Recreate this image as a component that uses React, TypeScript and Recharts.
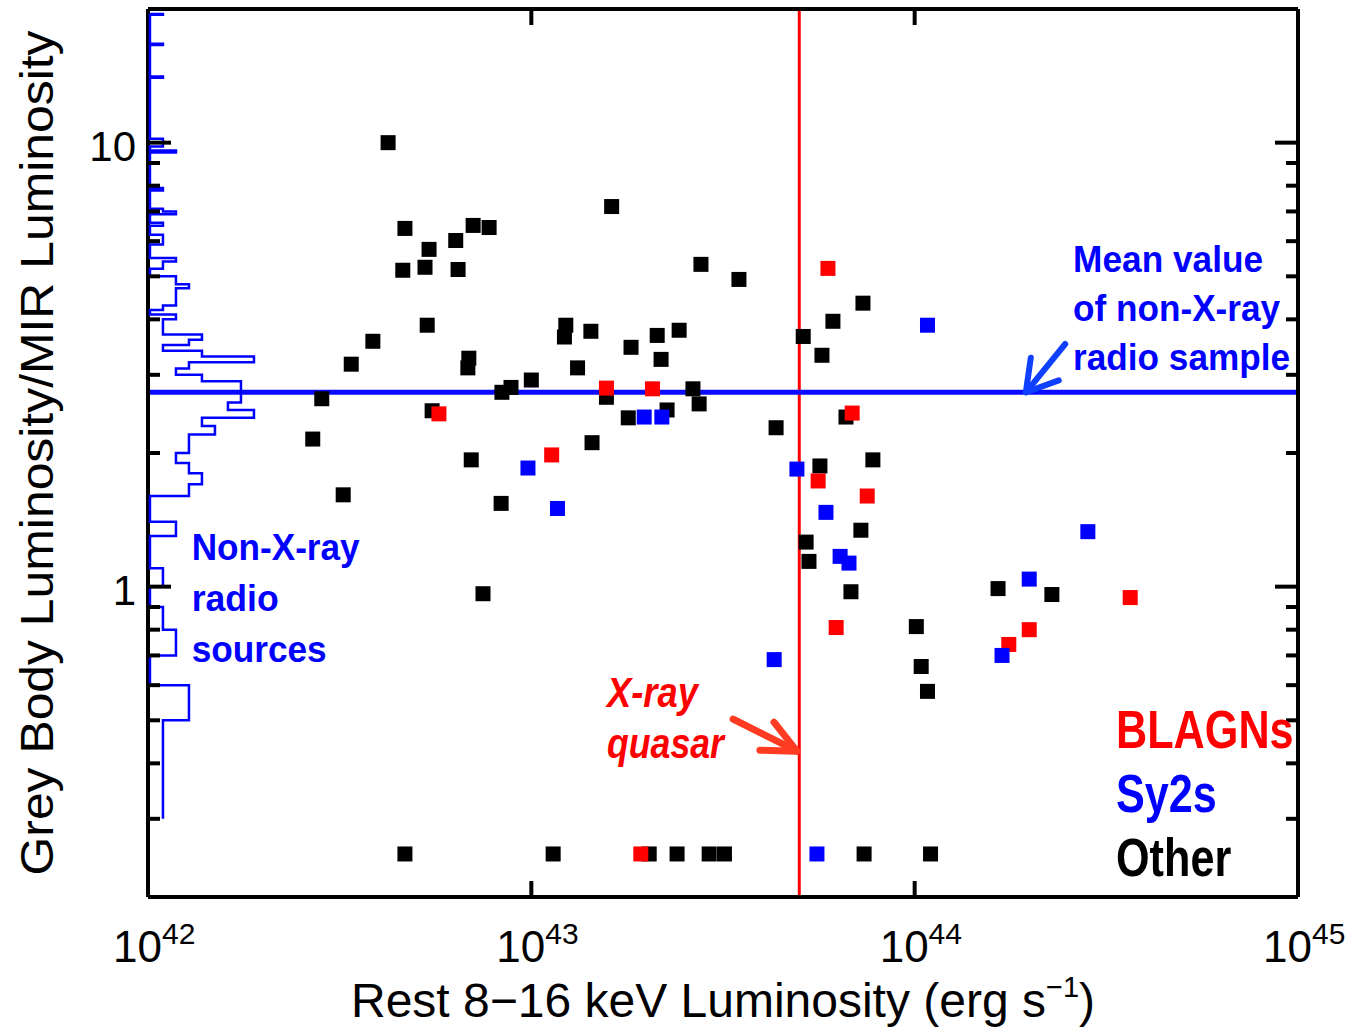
import React from 'react';
import { ScatterChart, Scatter, XAxis, YAxis, ReferenceLine, ReferenceDot, Legend } from 'recharts';

const FONT = "'Liberation Sans', Arial, Helvetica, sans-serif";

const CHART_W = 1345;
const CHART_H = 1028;
// plot frame, page pixels
const PLOT = { left: 148, top: 9, right: 1298, bottom: 897 };
const X_AXIS_H = 30;
const Y_AXIS_W = 60;

// rest 8-16 keV luminosity (erg/s) vs grey body / MIR luminosity
// (the row at 0.25 are the upper limits along the bottom)
const OTHER_LX = [
  4.23e42, 4.68e42, 7.05e42, 7.76e42, 5.41e42, 6.35e42, 4.62e42, 5.28e42, 6.44e42, 5.35e42,
  3.86e42, 3.39e42, 6.87e42, 6.83e42, 1.23e43, 1.22e43, 1.32e43, 1.0e43, 8.85e42, 8.38e42,
  2.84e42, 5.51e42, 2.69e42, 6.97e42, 3.23e42, 8.34e42, 7.48e42, 1.62e43, 2.77e43, 3.48e43,
  1.43e43, 1.82e43, 2.13e43, 2.43e43, 2.18e43, 1.57e43, 2.64e43, 2.74e43, 2.26e43, 1.79e43,
  4.35e43, 1.44e43, 5.12e43, 5.73e43, 6.12e43, 7.33e43, 6.62e43, 5.66e43, 7.78e43, 7.24e43,
  5.21e43, 5.3e43, 6.82e43, 1.65e44, 2.28e44, 1.01e44, 1.04e44, 1.08e44,
  4.68e42, 1.14e43, 2.03e43, 2.4e43, 2.91e43, 3.19e43, 7.38e43, 1.1e44,
];
const OTHER_RATIO = [
  10.0, 6.41, 6.51, 6.44, 5.75, 6.02, 5.16, 5.24, 5.18, 3.88,
  3.57, 3.17, 3.27, 3.11, 3.88, 3.65, 3.11, 2.92, 2.81, 2.74,
  2.65, 2.49, 2.15, 1.93, 1.61, 1.54, 0.964, 7.18, 5.32, 4.92,
  3.76, 3.46, 3.68, 3.78, 3.25, 2.67, 2.79, 2.58, 2.5, 2.4,
  2.28, 2.11, 3.66, 3.32, 3.96, 4.35, 2.41, 1.87, 1.93, 1.34,
  1.26, 1.14, 0.974, 0.99, 0.96, 0.813, 0.661, 0.581,
  0.25, 0.25, 0.25, 0.25, 0.25, 0.25, 0.25, 0.25,
];

const BLAGN_LX = [
  5.74e42, 1.13e43, 1.57e43, 2.07e43, 5.94e43, 6.87e43, 5.6e43, 7.52e43, 6.24e43,
  3.65e44, 1.99e44, 1.76e44, 1.93e43,
];
const BLAGN_RATIO = [2.45, 1.98, 2.8, 2.79, 5.21, 2.46, 1.73, 1.6, 0.809, 0.945, 0.8, 0.741, 0.25];

const SY2_LX = [
  9.8e42, 1.17e43, 1.97e43, 2.19e43, 4.93e43, 5.87e43, 6.39e43, 6.74e43, 4.3e43,
  1.08e44, 2.83e44, 1.99e44, 1.69e44, 5.56e43,
];
const SY2_RATIO = [1.85, 1.5, 2.41, 2.41, 1.84, 1.47, 1.17, 1.13, 0.685, 3.88, 1.33, 1.04, 0.7, 0.25];

const MEAN_RATIO = 2.74; // mean of the non-X-ray radio sample
const QUASAR_LX = 5e43; // X-ray quasar limit

// histogram of non-X-ray radio sources, bins 0.1 wide (lower edge -> count)
const HIST_FIRST = 0.3;
const HIST_LAST = 19.4;
const HIST_LOWER = [
  0.3, 0.4, 0.5, 0.7, 0.8, 1.0, 1.3, 1.6, 1.7, 1.8, 1.9, 2.0, 2.1, 2.2, 2.3, 2.4, 2.5, 2.6, 2.7, 2.8,
  2.9, 3.0, 3.1, 3.2, 3.3, 3.4, 3.5, 3.6, 3.7, 3.8, 3.9, 4.0, 4.2, 4.3, 4.4, 4.5, 4.6, 4.7, 4.8, 4.9,
  5.2, 5.3, 5.4, 5.9, 6.0, 6.1, 6.5, 6.9, 7.0, 7.8, 9.5, 9.8, 9.9, 10.0, 10.1, 14.0, 16.6, 19.4,
];
const HIST_COUNT = [
  1, 1, 3, 2, 1, 1, 2, 3, 4, 3, 2, 3, 3, 5, 4, 8, 6, 7, 7, 7,
  4, 2, 3, 8, 4, 1, 3, 4, 1, 1, 1, 2, 1, 2, 2, 2, 2, 3, 2, 2,
  1, 1, 2, 1, 1, 1, 1, 2, 1, 1, 2, 1, 1, 1, 1, 1, 1, 1,
];
const HIST_DOMAIN = [-0.15, 88.3];

const X_TICKS = [1e42, 1e43, 1e44, 1e45];
const Y_TICKS = [0.3, 0.4, 0.5, 0.6, 0.7, 0.8, 0.9, 1, 2, 3, 4, 5, 6, 7, 8, 9, 10];
const Y_LABELLED = [1, 10];

// annotations (anchored in data units)
const MEAN_NOTE = ['Mean value', 'of non-X-ray', 'radio sample'];
const MEAN_NOTE_W = [190, 207, 217];
const MEAN_NOTE_AT = [2.59e44, 5.11];
const NONX_NOTE = ['Non-X-ray', 'radio', 'sources'];
const NONX_NOTE_W = [168, 87, 135];
const NONX_NOTE_AT = [1.3e42, 1.15];
const QSO_NOTE = ['X-ray', 'quasar'];
const QSO_NOTE_W = [91, 117];
const QSO_NOTE_AT = [1.575e43, 0.536];
const MEAN_ARROW = [{ x: 2.47e44, y: 3.52 }, { x: 1.95e44, y: MEAN_RATIO }];
const QSO_ARROW = [{ x: 3.36e43, y: 0.503 }, { x: 4.93e43, y: 0.426 }];

const LEGEND_ORDER = ['BLAGNs', 'Sy2s', 'Other'];

const toPoints = (xs: number[], ys: number[]) => xs.map((lx, i) => ({ lx, ratio: ys[i] }));
const otherData = toPoints(OTHER_LX, OTHER_RATIO);
const blagnData = toPoints(BLAGN_LX, BLAGN_RATIO);
const sy2Data = toPoints(SY2_LX, SY2_RATIO);

// step outline of the histogram
const histMap = new Map(HIST_LOWER.map((lo, i) => [Math.round(lo * 10), HIST_COUNT[i]]));
const histOutline: { n: number; ratio: number }[] = [];
for (let t = Math.round(HIST_FIRST * 10); t <= Math.round(HIST_LAST * 10); t++) {
  const c = histMap.get(t) ?? 0;
  histOutline.push({ n: c, ratio: t / 10 }, { n: c, ratio: (t + 1) / 10 });
}
histOutline.push({ n: 0, ratio: (Math.round(HIST_LAST * 10) + 1) / 10 });

const square = (props: any) => (
  <rect x={props.cx - 7.5} y={props.cy - 7.5} width={15} height={15} fill={props.fill} />
);

const XTick = (props: any) => {
  const { x, payload } = props;
  const v = payload.value;
  const exp = Math.round(Math.log10(v));
  const edge = v === X_TICKS[0] || v === X_TICKS[X_TICKS.length - 1];
  return (
    <g>
      {!edge && (
        <g stroke="#000" strokeWidth={4}>
          <line x1={x} x2={x} y1={PLOT.bottom} y2={PLOT.bottom - 16} />
          <line x1={x} x2={x} y1={PLOT.top} y2={PLOT.top + 16} />
        </g>
      )}
      <text x={x - 35} y={PLOT.bottom + 65} fontFamily={FONT} fontSize={44} fill="#000">
        10
        <tspan dy={-18} fontSize={30}>{exp}</tspan>
      </text>
    </g>
  );
};

const YTick = (props: any) => {
  const { y, payload } = props;
  const v = payload.value;
  const major = Y_LABELLED.includes(v);
  const len = major ? 23 : 12;
  return (
    <g>
      <g stroke="#000" strokeWidth={4}>
        <line x1={PLOT.left} x2={PLOT.left + len} y1={y} y2={y} />
        <line x1={PLOT.right - len} x2={PLOT.right} y1={y} y2={y} />
      </g>
      {major && (
        <text x={136} y={y + 18} textAnchor="end" fontFamily={FONT} fontSize={42} fill="#000">
          {v}
        </text>
      )}
    </g>
  );
};

const XTitle = (props: any) => {
  const vb = props.viewBox;
  return (
    <text x={vb.x + vb.width / 2} y={PLOT.bottom + 120} textAnchor="middle" fontFamily={FONT} fontSize={48} fill="#000">
      Rest 8−16 keV Luminosity (erg s
      <tspan dy={-20} fontSize={29}>−1</tspan>
      <tspan dy={20}>)</tspan>
    </text>
  );
};

const YTitle = (props: any) => {
  const vb = props.viewBox;
  const x = PLOT.left - 95;
  const cy = vb.y + vb.height / 2;
  return (
    <text
      x={x}
      y={cy}
      transform={`rotate(-90 ${x} ${cy})`}
      textAnchor="middle"
      fontFamily={FONT}
      fontSize={46}
      textLength={845}
      lengthAdjust="spacingAndGlyphs"
      fill="#000"
    >
      Grey Body Luminosity/MIR Luminosity
    </text>
  );
};

const note = (lines: string[], widths: number[], color: string, size: number, gap: number, italic = false) =>
  (p: any) => (
    <g>
      {lines.map((t, i) => (
        <text
          key={t}
          x={p.cx}
          y={p.cy + i * gap}
          fill={color}
          fontFamily={FONT}
          fontWeight="bold"
          fontStyle={italic ? 'italic' : 'normal'}
          fontSize={size}
          textLength={widths[i]}
          lengthAdjust="spacingAndGlyphs"
        >
          {t}
        </text>
      ))}
    </g>
  );

const arrow = (color: string, width: number, head: number, spreadDeg: number) => (p: any) => {
  const { x1, y1, x2, y2 } = p;
  const ang = Math.atan2(y2 - y1, x2 - x1) + Math.PI;
  const s = (spreadDeg * Math.PI) / 180;
  const b1 = [x2 + head * Math.cos(ang - s), y2 + head * Math.sin(ang - s)];
  const b2 = [x2 + head * Math.cos(ang + s), y2 + head * Math.sin(ang + s)];
  return (
    <g stroke={color} strokeWidth={width} strokeLinecap="round" strokeLinejoin="round" fill="none">
      <line x1={x1} y1={y1} x2={x2} y2={y2} />
      <polyline points={`${b1[0]},${b1[1]} ${x2},${y2} ${b2[0]},${b2[1]}`} />
    </g>
  );
};

const LegendContent = (props: any) => {
  const payload = props.payload || [];
  const items = LEGEND_ORDER.map((name) => payload.find((p: any) => p.value === name)).filter(Boolean);
  return (
    <div>
      {items.map((it: any) => (
        <div
          key={it.value}
          style={{
            color: it.color,
            fontFamily: FONT,
            fontWeight: 'bold',
            fontSize: 54,
            height: 64,
            lineHeight: '64px',
            whiteSpace: 'nowrap',
            transform: 'scaleX(0.8)',
            transformOrigin: 'left center',
          }}
        >
          {it.value}
        </div>
      ))}
    </div>
  );
};

export default function App() {
  return (
    <div style={{ position: 'absolute', left: 0, top: 0, background: '#fff' }}>
      <ScatterChart
        width={CHART_W}
        height={CHART_H}
        margin={{
          top: PLOT.top,
          right: CHART_W - PLOT.right,
          bottom: CHART_H - PLOT.bottom - X_AXIS_H,
          left: PLOT.left - Y_AXIS_W,
        }}
      >
        <XAxis
          dataKey="lx"
          type="number"
          scale="log"
          domain={[1e42, 1e45]}
          ticks={X_TICKS}
          interval={0}
          tick={XTick}
          tickLine={false}
          axisLine={false}
          height={X_AXIS_H}
          allowDataOverflow
          label={XTitle}
        />
        <XAxis xAxisId="hist" dataKey="n" type="number" domain={HIST_DOMAIN} hide allowDataOverflow />
        <YAxis
          dataKey="ratio"
          type="number"
          scale="log"
          domain={[0.2, 20]}
          ticks={Y_TICKS}
          interval={0}
          tick={YTick}
          tickLine={false}
          axisLine={false}
          width={Y_AXIS_W}
          allowDataOverflow
          label={YTitle}
        />

        <Scatter
          name="Non-X-ray radio sources"
          data={histOutline}
          xAxisId="hist"
          line={{ stroke: '#0000ff', strokeWidth: 2.5 }}
          lineType="joint"
          shape={() => <g />}
          legendType="none"
          isAnimationActive={false}
        />
        <Scatter name="Other" data={otherData} fill="#000000" shape={square} isAnimationActive={false} />
        <Scatter name="BLAGNs" data={blagnData} fill="#ff0000" shape={square} isAnimationActive={false} />
        <Scatter name="Sy2s" data={sy2Data} fill="#0000ff" shape={square} isAnimationActive={false} />

        <ReferenceLine x={QUASAR_LX} stroke="#ff0000" strokeWidth={3} />
        <ReferenceLine y={MEAN_RATIO} stroke="#0a0aff" strokeWidth={5} />

        <ReferenceLine x={1e42} stroke="#000" strokeWidth={4} />
        <ReferenceLine x={1e45} stroke="#000" strokeWidth={4} />
        <ReferenceLine y={0.2} stroke="#000" strokeWidth={4} />
        <ReferenceLine y={20} stroke="#000" strokeWidth={4} />

        <ReferenceLine segment={MEAN_ARROW} shape={arrow('#1040ff', 6, 35, 31)} />
        <ReferenceLine segment={QSO_ARROW} shape={arrow('#ff3b22', 7, 37, 25)} />

        <ReferenceDot
          x={MEAN_NOTE_AT[0]}
          y={MEAN_NOTE_AT[1]}
          r={0}
          shape={note(MEAN_NOTE, MEAN_NOTE_W, '#0000ff', 37, 49)}
        />
        <ReferenceDot
          x={NONX_NOTE_AT[0]}
          y={NONX_NOTE_AT[1]}
          r={0}
          shape={note(NONX_NOTE, NONX_NOTE_W, '#0000ff', 37, 51)}
        />
        <ReferenceDot
          x={QSO_NOTE_AT[0]}
          y={QSO_NOTE_AT[1]}
          r={0}
          shape={note(QSO_NOTE, QSO_NOTE_W, '#ff0000', 42, 51, true)}
        />

        <Legend
          layout="horizontal"
          align="center"
          verticalAlign="middle"
          content={LegendContent}
          wrapperStyle={{ left: 1116, top: 697, width: 'auto', height: 'auto' }}
        />
      </ScatterChart>
    </div>
  );
}
